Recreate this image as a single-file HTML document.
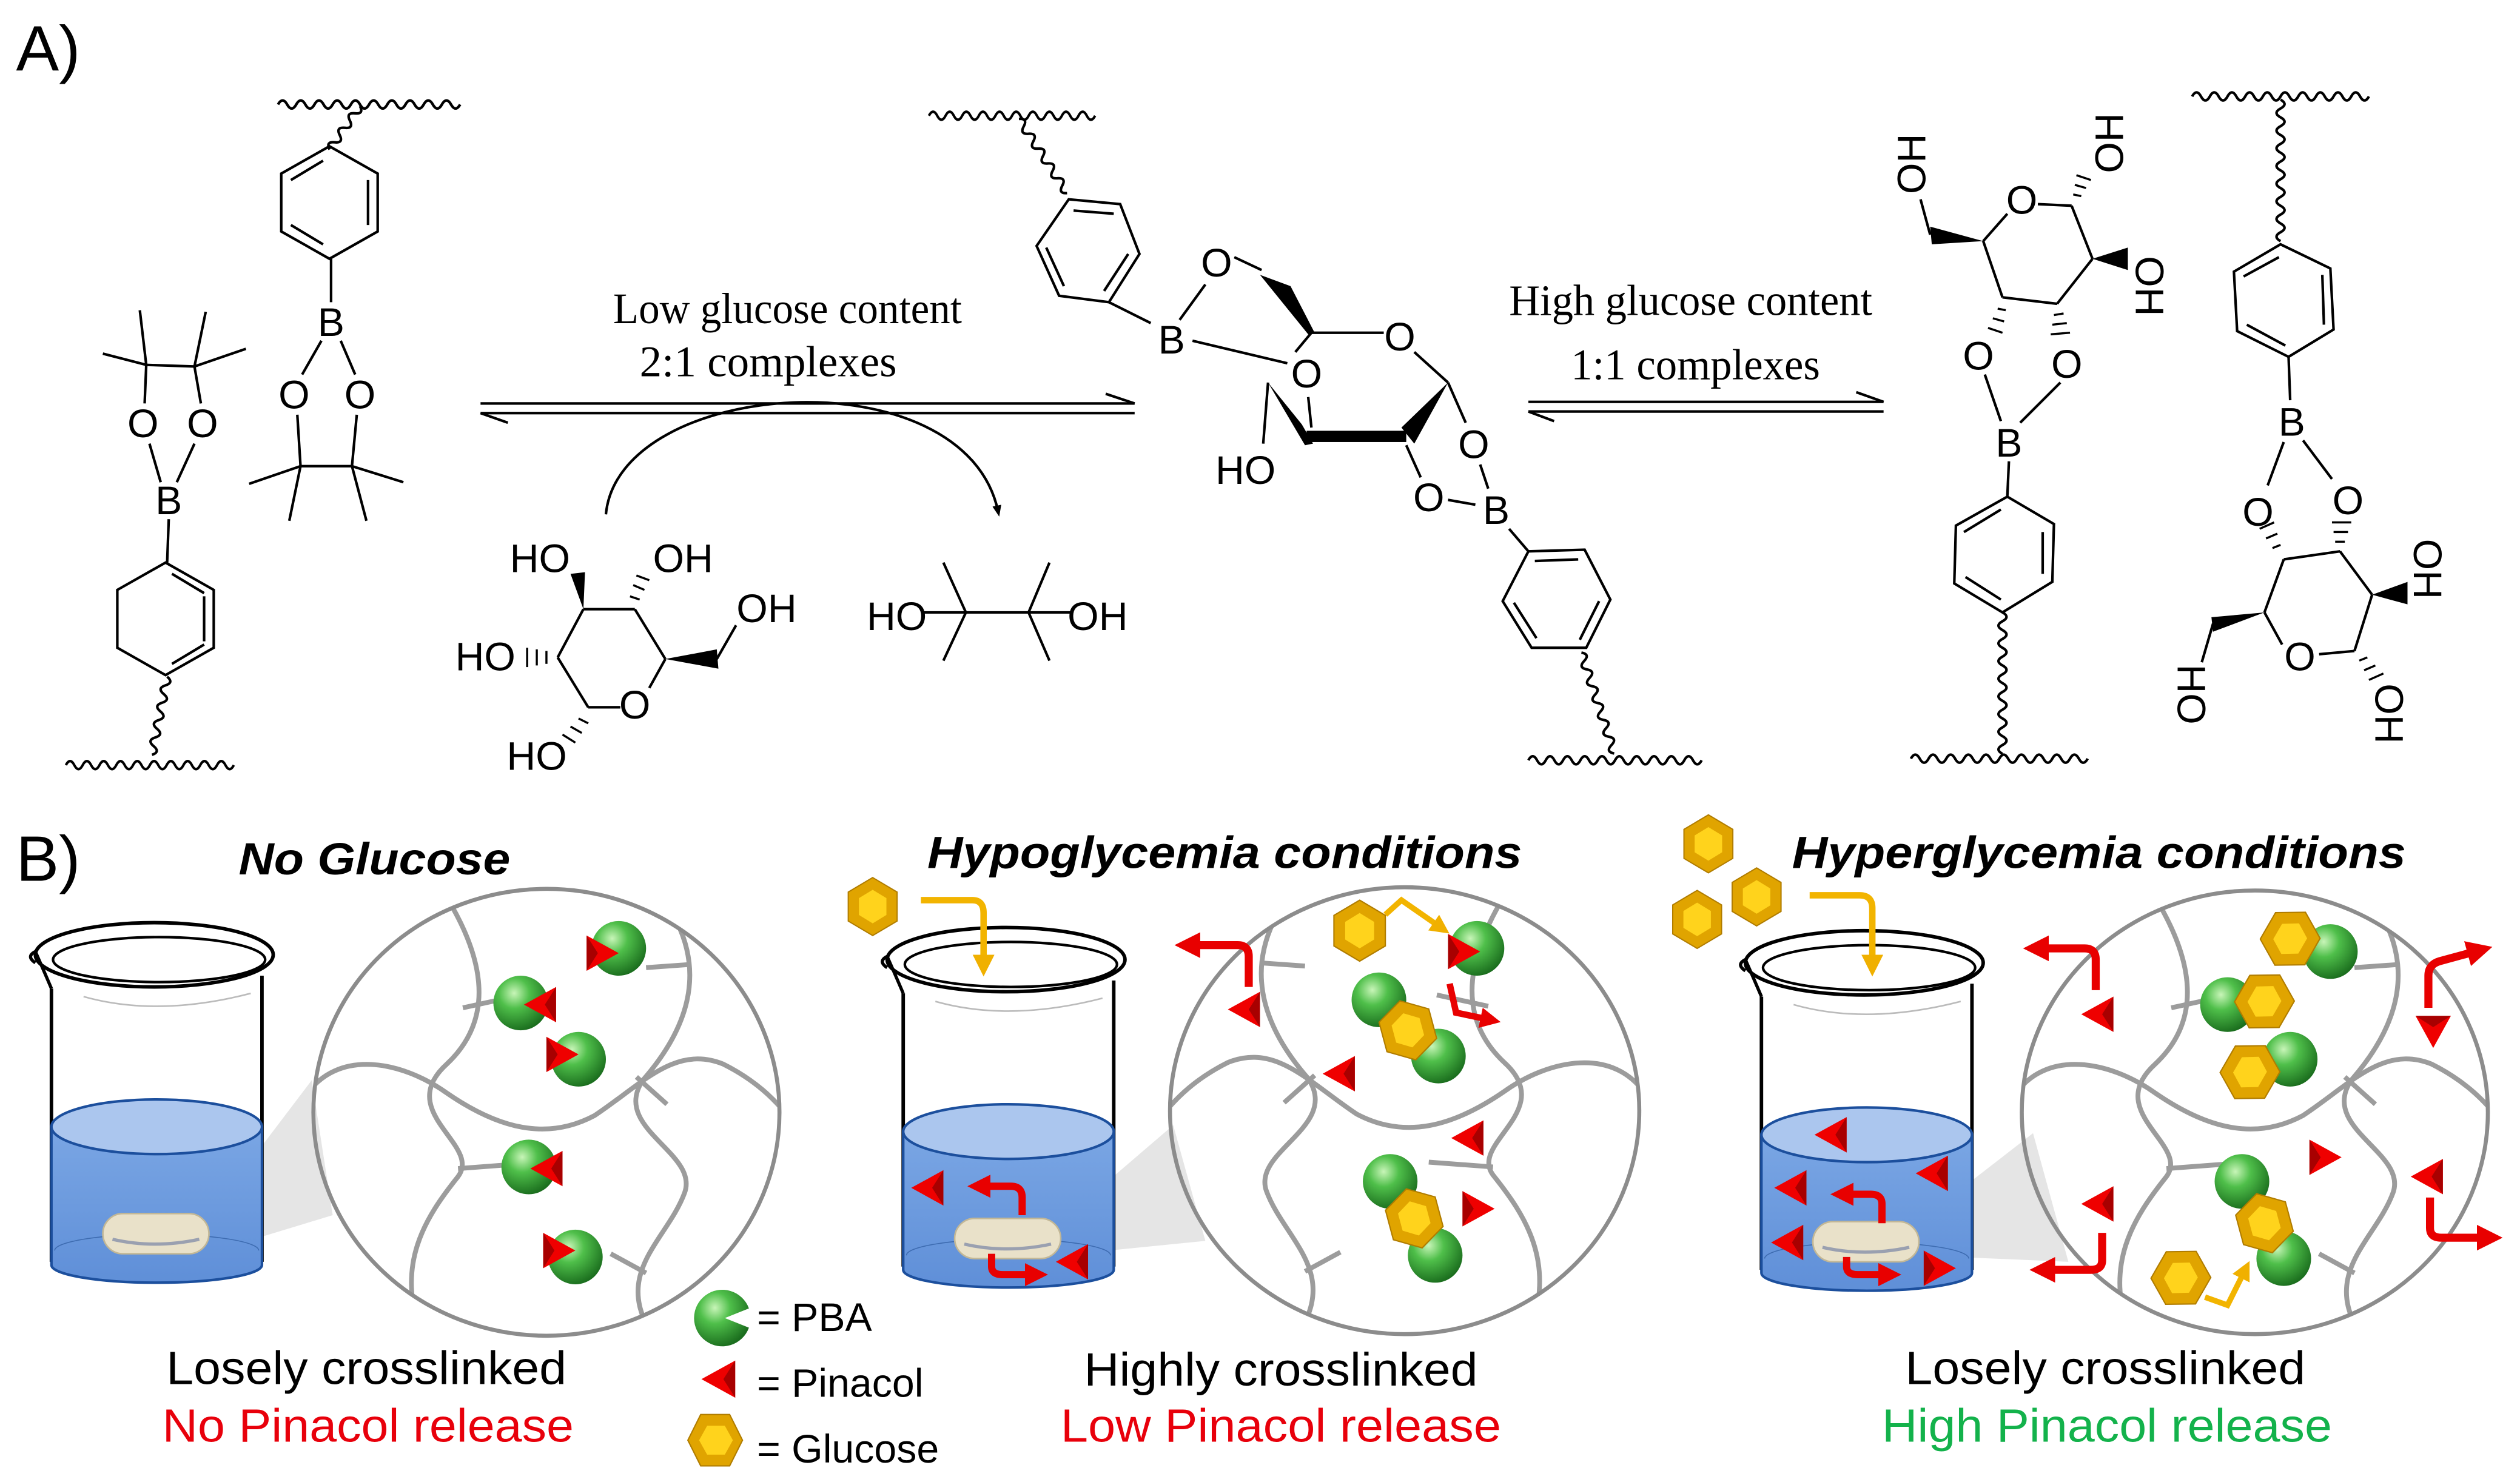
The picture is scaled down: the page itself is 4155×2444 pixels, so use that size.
<!DOCTYPE html>
<html><head><meta charset="utf-8"><style>
html,body{margin:0;padding:0;background:#fff}
svg{display:block}
.at{font-family:"Liberation Sans",sans-serif;font-size:25px;text-anchor:middle;fill:#000}
.sr{font-family:"Liberation Serif",serif;font-size:27px;text-anchor:middle;fill:#000}
.lb{font-family:"Liberation Sans",sans-serif;font-size:29px;text-anchor:middle}
.tt{font-family:"Liberation Sans",sans-serif;font-size:28px;font-weight:bold;font-style:italic;text-anchor:middle}
.lg{font-family:"Liberation Sans",sans-serif;font-size:25px}
</style></head><body>
<svg width="4155" height="2444" viewBox="0 0 1568 922" preserveAspectRatio="none" xmlns="http://www.w3.org/2000/svg">
<defs>
<path id="w20" d="M0,0 q2.75,-5 5.5,0 t5.5,0 t5.5,0 t5.5,0 t5.5,0 t5.5,0 t5.5,0 t5.5,0 t5.5,0 t5.5,0 t5.5,0 t5.5,0 t5.5,0 t5.5,0 t5.5,0 t5.5,0 t5.5,0 t5.5,0 t5.5,0 t5.5,0" fill="none" stroke="#000" stroke-width="1.6"/>
<path id="w16" d="M0,0 q2.75,-5 5.5,0 t5.5,0 t5.5,0 t5.5,0 t5.5,0 t5.5,0 t5.5,0 t5.5,0 t5.5,0 t5.5,0 t5.5,0 t5.5,0 t5.5,0 t5.5,0 t5.5,0 t5.5,0" fill="none" stroke="#000" stroke-width="1.6"/>
<path id="w12" d="M0,0 q2.75,-5 5.5,0 t5.5,0 t5.5,0 t5.5,0 t5.5,0 t5.5,0 t5.5,0 t5.5,0 t5.5,0 t5.5,0 t5.5,0 t5.5,0" fill="none" stroke="#000" stroke-width="1.6"/>
<path id="w10" d="M0,0 q2.75,-5 5.5,0 t5.5,0 t5.5,0 t5.5,0 t5.5,0 t5.5,0 t5.5,0 t5.5,0 t5.5,0 t5.5,0" fill="none" stroke="#000" stroke-width="1.6"/>
<path id="w9" d="M0,0 q2.75,-5 5.5,0 t5.5,0 t5.5,0 t5.5,0 t5.5,0 t5.5,0 t5.5,0 t5.5,0 t5.5,0" fill="none" stroke="#000" stroke-width="1.6"/>
<path id="w6" d="M0,0 q2.75,-5 5.5,0 t5.5,0 t5.5,0 t5.5,0 t5.5,0 t5.5,0" fill="none" stroke="#000" stroke-width="1.6"/>
<radialGradient id="gs" cx="0.38" cy="0.32" r="0.7"><stop offset="0" stop-color="#c8f5b8"/><stop offset="0.4" stop-color="#4fbf4a"/><stop offset="1" stop-color="#1b6e1e"/></radialGradient>
<linearGradient id="wat" x1="0" y1="0" x2="0" y2="1"><stop offset="0" stop-color="#7aa6e4"/><stop offset="1" stop-color="#5f8fd8"/></linearGradient>
<g id="sp"><circle r="17" fill="url(#gs)"/></g>
<g id="tri"><polygon points="-11,0 9,-11 9,11" fill="#ef0000"/><polygon points="2,0 9,-11 9,11" fill="#a80000"/></g>
<g id="hx"><polygon points="0,-19 16,-9.5 16,9.5 0,19 -16,9.5 -16,-9.5" fill="#e0a400" stroke="#b07c00" stroke-width="0.8"/><polygon points="0,-11 9,-5.5 9,5.5 0,11 -9,5.5 -9,-5.5" fill="#ffd31c"/></g>
<marker id="rh" viewBox="0 0 10 10" refX="3" refY="5" markerWidth="3.2" markerHeight="3.2" orient="auto"><path d="M0,0 L10,5 L0,10 z" fill="#e80000"/></marker>
<marker id="yh" viewBox="0 0 10 10" refX="3" refY="5" markerWidth="3.4" markerHeight="3.4" orient="auto"><path d="M0,0 L10,5 L0,10 z" fill="#f0b000"/></marker>
<marker id="bh" viewBox="0 0 10 10" refX="5" refY="5" markerWidth="7" markerHeight="7" orient="auto" markerUnits="userSpaceOnUse"><path d="M0,1 L10,5 L0,9 z" fill="#000"/></marker>
<g id="bk">
<path d="M16,42 L16,212" stroke="#000" stroke-width="2.2" fill="none"/>
<path d="M147,34 L147,212" stroke="#000" stroke-width="2.2" fill="none"/>
<path d="M16,128 L16,214 A65.5,11 0 0 0 147,214 L147,128 Z" fill="url(#wat)" stroke="#1c4f9d" stroke-width="1.6"/>
<ellipse cx="81.5" cy="128" rx="65.5" ry="17" fill="#abc6ee" stroke="#1c4f9d" stroke-width="1.6"/>
<path d="M18,205 A63,10 0 0 1 145,205" fill="none" stroke="#3d6bb0" stroke-width="0.6"/>
<ellipse cx="80" cy="21" rx="74" ry="20" fill="none" stroke="#000" stroke-width="2.2"/>
<ellipse cx="83" cy="24" rx="66" ry="14" fill="none" stroke="#000" stroke-width="1.6"/>
<path d="M6,26 Q0,22 6,19 Q10,28 16,42" fill="none" stroke="#000" stroke-width="2"/>
<path d="M36,47 Q82,60 140,45" fill="none" stroke="#bbb" stroke-width="1"/>
<rect x="48" y="182" width="66" height="25" rx="12.5" fill="#e9e1c9" stroke="#c2b796"/>
<path d="M54,198 Q80,204 108,198" stroke="#9aa0b0" stroke-width="2" fill="none"/>
</g>
<g id="net" fill="none" stroke="#9c9c9c" stroke-width="3">
<path d="M-66,-140 C-40,-100 -30,-60 -62,-30 C-95,0 -40,20 -55,40 C-75,65 -95,95 -77,140"/>
<path d="M67,-140 C100,-100 95,-60 60,-20 C40,10 95,25 86,50 C75,80 40,100 67,140"/>
<path d="M-150,-10 C-130,-40 -90,-32 -62,-12 C-30,10 0,18 30,2 C60,-18 80,-42 110,-30 C130,-20 142,-8 150,2"/>
<path d="M-52,-65 L-20,-72 M62,-90 L90,-92 M-55,35 L-15,32 M56,-22 L75,-5 M40,88 L62,100"/>
</g>
<clipPath id="c1"><ellipse cx="340" cy="692" rx="145" ry="139"/></clipPath>
<clipPath id="c2"><ellipse cx="874" cy="691" rx="146" ry="139"/></clipPath>
<clipPath id="c3"><ellipse cx="1403" cy="692" rx="145" ry="138"/></clipPath>
</defs>

<rect width="1568" height="922" fill="#fff"/>

<!-- ============ A ============ -->
<text x="10" y="44" style="font-family:'Liberation Sans',sans-serif;font-size:40px">A)</text>

<g stroke="#000" stroke-width="1.6" fill="none">
<!-- left pinacol boronate -->
<use href="#w20" transform="translate(41,476) scale(0.95,1)"/>
<use href="#w9" transform="translate(104,421) rotate(101)"/>
<polygon points="103,350 133,367 133,403 103,420 73,403 73,367"/>
<line x1="107" y1="357" x2="127" y2="369"/><line x1="127" y1="371" x2="127" y2="399"/><line x1="107" y1="413" x2="127" y2="401"/>
<line x1="104" y1="350" x2="105" y2="323"/>
<line x1="100" y1="300" x2="93" y2="276"/><line x1="110" y1="300" x2="121" y2="276"/>
<line x1="90" y1="251" x2="91" y2="227"/><line x1="125" y1="251" x2="121" y2="228"/>
<line x1="91" y1="227" x2="121" y2="228"/>
<line x1="91" y1="227" x2="64" y2="220"/><line x1="91" y1="227" x2="87" y2="193"/>
<line x1="121" y1="228" x2="153" y2="217"/><line x1="121" y1="228" x2="128" y2="194"/>
<!-- upper-left -->
<use href="#w20" transform="translate(173,65) scale(1.03,1)"/>
<use href="#w6" transform="translate(224,66) rotate(125)"/>
<polygon points="205,91 235,108 235,144 205,161 175,144 175,108"/>
<line x1="181" y1="112" x2="201" y2="100"/><line x1="229" y1="112" x2="229" y2="140"/><line x1="181" y1="140" x2="201" y2="152"/>
<line x1="206" y1="161" x2="206" y2="188"/>
<line x1="200" y1="212" x2="188" y2="233"/><line x1="212" y1="212" x2="221" y2="233"/>
<line x1="185" y1="258" x2="187" y2="290"/><line x1="222" y1="258" x2="219" y2="290"/>
<line x1="187" y1="290" x2="219" y2="290"/>
<line x1="187" y1="290" x2="155" y2="301"/><line x1="187" y1="290" x2="180" y2="324"/>
<line x1="219" y1="290" x2="251" y2="300"/><line x1="219" y1="290" x2="228" y2="324"/>
<!-- arrows 1 -->
<line x1="299" y1="251" x2="706" y2="251"/><line x1="706" y1="251" x2="688" y2="245"/>
<line x1="299" y1="257" x2="706" y2="257"/><line x1="299" y1="257" x2="316" y2="263"/>
<path d="M377,320 C385,235 600,220 621,318" marker-end="url(#bh)"/>
<!-- glucose -->
<line x1="363" y1="379" x2="395" y2="379"/><line x1="395" y1="379" x2="414" y2="410"/>
<line x1="414" y1="410" x2="404" y2="428"/><line x1="386" y1="440" x2="366" y2="440"/>
<line x1="366" y1="440" x2="347" y2="409"/><line x1="347" y1="409" x2="363" y2="379"/>
<line x1="446" y1="410" x2="458" y2="389"/>
<!-- pinacol -->
<line x1="575" y1="381" x2="666" y2="381"/>
<line x1="601" y1="381" x2="587" y2="350"/><line x1="601" y1="381" x2="587" y2="411"/>
<line x1="640" y1="381" x2="653" y2="350"/><line x1="640" y1="381" x2="653" y2="411"/>
<!-- middle complex -->
<use href="#w20" transform="translate(578,72) scale(0.94,1)"/>
<use href="#w10" transform="translate(634,74) rotate(57)"/>
<polygon points="665,124 697,127 709,158 690,188 659,184 645,153"/>
<line x1="668" y1="131" x2="693" y2="133"/><line x1="702" y1="158" x2="687" y2="181"/><line x1="651" y1="154" x2="662" y2="178"/>
<line x1="690" y1="188" x2="716" y2="201"/>
<line x1="734" y1="199" x2="750" y2="177"/>
<line x1="768" y1="160" x2="785" y2="168"/>
<line x1="816" y1="207" x2="861" y2="207"/>
<line x1="880" y1="219" x2="901" y2="238"/>
<line x1="901" y1="238" x2="912" y2="263"/>
<line x1="816" y1="207" x2="806" y2="219"/>
<line x1="742" y1="212" x2="801" y2="226"/>
<line x1="814" y1="247" x2="816" y2="266"/>
<line x1="789" y1="238" x2="786" y2="276"/>
<line x1="875" y1="277" x2="884" y2="297"/>
<line x1="901" y1="311" x2="918" y2="314"/>
<line x1="921" y1="289" x2="926" y2="304"/>
<line x1="939" y1="329" x2="951" y2="343"/>
<polygon points="951,343 986,342 1002,373 987,403 953,403 935,374"/>
<line x1="955" y1="349" x2="982" y2="348"/><line x1="995" y1="374" x2="983" y2="398"/><line x1="942" y1="375" x2="956" y2="397"/>
<use href="#w12" transform="translate(984,406) rotate(72)"/>
<use href="#w20" transform="translate(951,473) scale(0.98,1)"/>
<!-- arrows 2 -->
<line x1="951" y1="250" x2="1172" y2="250"/><line x1="1172" y1="250" x2="1155" y2="244"/>
<line x1="951" y1="256" x2="1172" y2="256"/><line x1="951" y1="256" x2="967" y2="262"/>
<!-- right glucose -->
<line x1="1234" y1="150" x2="1249" y2="133"/><line x1="1268" y1="127" x2="1289" y2="128"/>
<line x1="1289" y1="128" x2="1302" y2="161"/><line x1="1302" y1="161" x2="1280" y2="189"/>
<line x1="1280" y1="189" x2="1246" y2="185"/><line x1="1246" y1="185" x2="1234" y2="150"/>
<line x1="1201" y1="146" x2="1195" y2="124"/>
<line x1="1235" y1="233" x2="1245" y2="262"/><line x1="1282" y1="238" x2="1257" y2="263"/>
<line x1="1250" y1="287" x2="1249" y2="309"/>
<polygon points="1249,309 1278,326 1277,362 1246,381 1216,363 1217,327"/>
<line x1="1222" y1="331" x2="1245" y2="317"/><line x1="1271" y1="331" x2="1271" y2="357"/><line x1="1223" y1="359" x2="1245" y2="373"/>
<use href="#w16" transform="translate(1246,381) rotate(90)"/>
<use href="#w20" transform="translate(1189,472)"/>
<!-- far right -->
<use href="#w20" transform="translate(1364,60)"/>
<use href="#w16" transform="translate(1419,62) rotate(90)"/>
<polygon points="1419,152 1450,167 1452,205 1424,222 1392,206 1390,169"/>
<line x1="1396" y1="172" x2="1418" y2="160"/><line x1="1445" y1="171" x2="1446" y2="202"/><line x1="1398" y1="202" x2="1422" y2="215"/>
<line x1="1424" y1="222" x2="1425" y2="249"/>
<line x1="1421" y1="275" x2="1411" y2="302"/><line x1="1433" y1="274" x2="1451" y2="298"/>
<line x1="1421" y1="348" x2="1456" y2="343"/><line x1="1456" y1="343" x2="1476" y2="370"/>
<line x1="1476" y1="370" x2="1465" y2="405"/><line x1="1465" y1="405" x2="1443" y2="407"/>
<line x1="1420" y1="401" x2="1409" y2="381"/><line x1="1409" y1="381" x2="1421" y2="348"/>
<line x1="1377" y1="388" x2="1370" y2="412"/>
</g>
<!-- wedges & hashes -->
<g fill="#000" stroke="none">
<polygon points="363,379 355,357 364,356"/>
<polygon points="414,410 446,404 447,416"/>
<polygon points="784,171 803,178 818,207 814,208"/>
<polygon points="789,238 810,264 817,276 812,277"/>
<rect x="813" y="268" width="62" height="7"/>
<polygon points="901,238 872,266 880,276"/>
<polygon points="1234,150 1201,141 1202,152"/>
<polygon points="1302,161 1324,154 1324,168"/>
<polygon points="1476,370 1498,362 1498,376"/>
<polygon points="1409,381 1376,384 1377,393"/>
</g>
<g stroke="#000" stroke-width="1.3">
<line x1="398" y1="373" x2="392" y2="371"/><line x1="401" y1="367" x2="394" y2="364"/><line x1="404" y1="361" x2="396" y2="358"/>
<line x1="340" y1="405" x2="340" y2="413"/><line x1="334" y1="404" x2="334" y2="414"/><line x1="328" y1="403" x2="328" y2="415"/>
<line x1="360" y1="447" x2="366" y2="450"/><line x1="355" y1="452" x2="362" y2="456"/><line x1="350" y1="457" x2="358" y2="462"/>
<line x1="1290" y1="121" x2="1295" y2="122"/><line x1="1291" y1="115" x2="1298" y2="117"/><line x1="1292" y1="109" x2="1301" y2="112"/>
<line x1="1243" y1="192" x2="1248" y2="193"/><line x1="1240" y1="198" x2="1247" y2="200"/><line x1="1237" y1="204" x2="1246" y2="207"/>
<line x1="1278" y1="196" x2="1284" y2="195"/><line x1="1277" y1="202" x2="1286" y2="201"/><line x1="1276" y1="208" x2="1288" y2="207"/>
<line x1="1414" y1="341" x2="1419" y2="339"/><line x1="1410" y1="335" x2="1417" y2="332"/><line x1="1406" y1="329" x2="1415" y2="325"/>
<line x1="1453" y1="337" x2="1459" y2="337"/><line x1="1452" y1="331" x2="1461" y2="331"/><line x1="1451" y1="325" x2="1463" y2="325"/>
<line x1="1468" y1="411" x2="1473" y2="409"/><line x1="1471" y1="417" x2="1478" y2="414"/><line x1="1474" y1="423" x2="1483" y2="419"/>
</g>

<g class="at">
<text x="89" y="272" class="at">O</text><text x="126" y="272" class="at">O</text><text x="105" y="320" class="at">B</text>
<text x="206" y="209" class="at">B</text><text x="183" y="254" class="at">O</text><text x="224" y="254" class="at">O</text>
<text x="336" y="356" class="at">HO</text><text x="425" y="356" class="at">OH</text><text x="477" y="387" class="at">OH</text>
<text x="302" y="417" class="at">HO</text><text x="334" y="479" class="at">HO</text><text x="395" y="447" class="at">O</text>
<text x="558" y="392" class="at">HO</text><text x="683" y="392" class="at">OH</text>
<text x="757" y="172" class="at">O</text><text x="729" y="220" class="at">B</text><text x="871" y="218" class="at">O</text>
<text x="813" y="241" class="at">O</text><text x="775" y="301" class="at">HO</text><text x="917" y="285" class="at">O</text>
<text x="889" y="318" class="at">O</text><text x="931" y="326" class="at">B</text>
<text x="1258" y="133" class="at">O</text><text x="1231" y="230" class="at">O</text><text x="1286" y="235" class="at">O</text><text x="1250" y="284" class="at">B</text>
<text x="1426" y="271" class="at">B</text><text x="1405" y="327" class="at">O</text><text x="1461" y="320" class="at">O</text><text x="1431" y="417" class="at">O</text>
<text class="at" transform="translate(1189,102) rotate(-90)" y="9">OH</text>
<text class="at" transform="translate(1312,89) rotate(-90)" y="9">OH</text>
<text class="at" transform="translate(1338,178) rotate(90)" y="9">OH</text>
<text class="at" transform="translate(1511,354) rotate(90)" y="9">OH</text>
<text class="at" transform="translate(1364,432) rotate(90)" y="9">HO</text>
<text class="at" transform="translate(1487,444) rotate(90)" y="9">OH</text>
</g>
<text x="490" y="201" class="sr" textLength="217" lengthAdjust="spacingAndGlyphs">Low glucose content</text>
<text x="478" y="234" class="sr" textLength="160" lengthAdjust="spacingAndGlyphs">2:1 complexes</text>
<text x="1052" y="196" class="sr" textLength="226" lengthAdjust="spacingAndGlyphs">High glucose content</text>
<text x="1055" y="236" class="sr" textLength="155" lengthAdjust="spacingAndGlyphs">1:1 complexes</text>

<!-- ============ B ============ -->
<text x="10" y="548" style="font-family:'Liberation Sans',sans-serif;font-size:40px">B)</text>
<text x="233" y="544" class="tt" textLength="169" lengthAdjust="spacingAndGlyphs">No Glucose</text>
<text x="762" y="540" class="tt" textLength="370" lengthAdjust="spacingAndGlyphs">Hypoglycemia conditions</text>
<text x="1306" y="540" class="tt" textLength="382" lengthAdjust="spacingAndGlyphs">Hyperglycemia conditions</text>

<!-- cones -->
<polygon points="128,759 128,780 207,756 194,672" fill="#d4d4d4" opacity="0.6"/>
<polygon points="660,760 660,781 750,772 730,700" fill="#d4d4d4" opacity="0.6"/>
<polygon points="1194,760 1194,781 1287,785 1265,705" fill="#d4d4d4" opacity="0.6"/>

<use href="#bk" transform="translate(16,573)"/>
<use href="#bk" transform="translate(546,576)"/>
<use href="#bk" transform="translate(1080,578)"/>

<!-- circles -->
<g clip-path="url(#c1)"><use href="#net" transform="translate(340,692)"/></g>
<ellipse cx="340" cy="692" rx="145" ry="139" fill="none" stroke="#8c8c8c" stroke-width="2.5"/>
<g clip-path="url(#c2)"><use href="#net" transform="translate(874,691) scale(-1,1)"/></g>
<ellipse cx="874" cy="691" rx="146" ry="139" fill="none" stroke="#8c8c8c" stroke-width="2.5"/>
<g clip-path="url(#c3)"><use href="#net" transform="translate(1403,692)"/></g>
<ellipse cx="1403" cy="692" rx="145" ry="138" fill="none" stroke="#8c8c8c" stroke-width="2.5"/>

<!-- left circle contents -->
<use href="#sp" x="385" y="590"/><use href="#tri" transform="translate(374,593) rotate(180)"/>
<use href="#sp" x="324" y="624"/><use href="#tri" transform="translate(337,625)"/>
<use href="#sp" x="360" y="659"/><use href="#tri" transform="translate(349,656) rotate(180)"/>
<use href="#sp" x="329" y="726"/><use href="#tri" transform="translate(341,727)"/>
<use href="#sp" x="358" y="782"/><use href="#tri" transform="translate(347,778) rotate(180)"/>

<!-- middle -->
<use href="#hx" transform="translate(543,564) scale(0.95)"/>
<path d="M573,560 L605,560 Q612,560 612,568 L612,598" fill="none" stroke="#f2b400" stroke-width="4" marker-end="url(#yh)"/>
<path d="M777,614 L777,595 Q777,588 770,588 L742,588" fill="none" stroke="#e80000" stroke-width="5" marker-end="url(#rh)"/>
<use href="#tri" transform="translate(775,628)"/>
<use href="#sp" x="919" y="590"/><use href="#tri" transform="translate(910,592) rotate(180)"/>
<use href="#hx" x="846" y="579"/>
<path d="M862,569 L872,560 L895,576" fill="none" stroke="#f2b400" stroke-width="3.5" marker-end="url(#yh)"/>
<use href="#sp" x="858" y="622"/><use href="#sp" x="895" y="657"/><use href="#hx" transform="translate(876,641) rotate(-15)"/>
<path d="M902,612 L906,630 L925,634" fill="none" stroke="#e80000" stroke-width="4" marker-end="url(#rh)"/>
<use href="#tri" transform="translate(834,668)"/>
<use href="#tri" transform="translate(914,708)"/>
<use href="#tri" transform="translate(919,752) rotate(180)"/>
<use href="#sp" x="865" y="735"/><use href="#sp" x="893" y="781"/><use href="#hx" transform="translate(880,758) rotate(-15)"/>
<use href="#tri" transform="translate(578,739)"/>
<path d="M636,756 L636,745 Q636,738 629,738 L612,738" fill="none" stroke="#e80000" stroke-width="4.5" marker-end="url(#rh)"/>
<path d="M617,780 L617,788 Q617,793 624,793 L642,793" fill="none" stroke="#e80000" stroke-width="4.5" marker-end="url(#rh)"/>
<use href="#tri" transform="translate(668,785)"/>

<!-- right -->
<use href="#hx" transform="translate(1063,525) scale(0.95)"/>
<use href="#hx" transform="translate(1093,558) scale(0.95)"/>
<use href="#hx" transform="translate(1056,572) scale(0.95)"/>
<path d="M1126,557 L1157,557 Q1165,557 1165,565 L1165,598" fill="none" stroke="#f2b400" stroke-width="4" marker-end="url(#yh)"/>
<use href="#tri" transform="translate(1140,706)"/>
<use href="#tri" transform="translate(1203,730)"/>
<use href="#tri" transform="translate(1115,739)"/>
<use href="#tri" transform="translate(1113,773)"/>
<use href="#tri" transform="translate(1206,789) rotate(180)"/>
<path d="M1171,761 L1171,749 Q1171,743 1164,743 L1149,743" fill="none" stroke="#e80000" stroke-width="4.5" marker-end="url(#rh)"/>
<path d="M1149,782 L1149,788 Q1149,793 1156,793 L1173,793" fill="none" stroke="#e80000" stroke-width="4.5" marker-end="url(#rh)"/>
<path d="M1304,616 L1304,597 Q1304,590 1297,590 L1270,590" fill="none" stroke="#e80000" stroke-width="5" marker-end="url(#rh)"/>
<use href="#tri" transform="translate(1306,631)"/>
<path d="M1511,627 L1511,607 Q1511,600 1518,598 L1540,592" fill="none" stroke="#e80000" stroke-width="5" marker-end="url(#rh)"/>
<use href="#tri" transform="translate(1514,641) rotate(-90)"/>
<use href="#tri" transform="translate(1511,732)"/>
<path d="M1512,745 L1512,764 Q1512,770 1519,770 L1546,770" fill="none" stroke="#e80000" stroke-width="5" marker-end="url(#rh)"/>
<use href="#tri" transform="translate(1306,749)"/>
<path d="M1308,767 L1308,784 Q1308,790 1301,790 L1274,790" fill="none" stroke="#e80000" stroke-width="5" marker-end="url(#rh)"/>
<use href="#sp" x="1450" y="592"/><use href="#hx" transform="translate(1425,584) rotate(30)"/>
<use href="#sp" x="1386" y="625"/><use href="#hx" transform="translate(1409,623) rotate(30)"/>
<use href="#sp" x="1425" y="659"/><use href="#hx" transform="translate(1400,667) rotate(30)"/>
<use href="#tri" transform="translate(1446,720) rotate(180)"/>
<use href="#sp" x="1395" y="735"/><use href="#sp" x="1421" y="783"/><use href="#hx" transform="translate(1409,761) rotate(-15)"/>
<use href="#hx" transform="translate(1357,795) rotate(30)"/>
<path d="M1372,807 L1386,812 L1396,792" fill="none" stroke="#f2b400" stroke-width="3.5" marker-end="url(#yh)"/>

<!-- legend -->
<path d="M466,814 A17.6,17.6 0 1 0 466,826 L451,820 Z" fill="url(#gs)"/>
<use href="#tri" transform="translate(448,858) scale(1.05)"/>
<polygon points="436,880 454,880 462,896 454,912 436,912 428,896" fill="#e0a400" stroke="#b07c00" stroke-width="0.8"/>
<polygon points="440,887 451,887 456,896 451,905 440,905 435,896" fill="#ffd31c"/>
<text x="471" y="828" class="lg">= PBA</text>
<text x="471" y="869" class="lg">= Pinacol</text>
<text x="471" y="910" class="lg">= Glucose</text>

<!-- captions -->
<text x="228" y="861" class="lb" fill="#000" textLength="249" lengthAdjust="spacingAndGlyphs">Losely crosslinked</text>
<text x="229" y="897" class="lb" fill="#e8000b" textLength="256" lengthAdjust="spacingAndGlyphs">No Pinacol release</text>
<text x="797" y="862" class="lb" fill="#000" textLength="245" lengthAdjust="spacingAndGlyphs">Highly crosslinked</text>
<text x="797" y="897" class="lb" fill="#e8000b" textLength="274" lengthAdjust="spacingAndGlyphs">Low Pinacol release</text>
<text x="1310" y="861" class="lb" fill="#000" textLength="249" lengthAdjust="spacingAndGlyphs">Losely crosslinked</text>
<text x="1311" y="897" class="lb" fill="#13b24b" textLength="280" lengthAdjust="spacingAndGlyphs">High Pinacol release</text>
</svg>
</body></html>
